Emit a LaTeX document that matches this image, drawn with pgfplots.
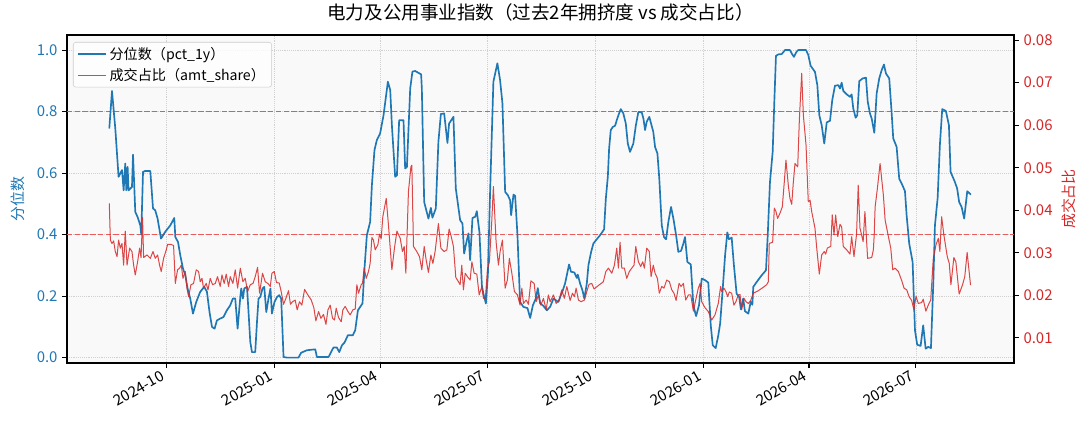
\documentclass[border=0pt]{standalone}
\usepackage{fontspec}
\setmainfont{Noto Sans CJK SC}
\usepackage{pgfplots}
\usepackage{pgfplotstable}
\pgfplotsset{compat=1.18}

\definecolor{tabblue}{HTML}{1F77B4}
\definecolor{tabred}{HTML}{D62728}
\definecolor{refgreen}{HTML}{3CB43C}
\definecolor{refred}{HTML}{EC5A5A}
\definecolor{facebg}{HTML}{F9F9F9}

% x = days since 2024-10-01, y = pct_1y
\pgfplotstableread{
d v
-48.5 0.745
-46.2 0.867
-43.4 0.745
-40.6 0.588
-37.7 0.610
-36.3 0.544
-34.9 0.631
-34.0 0.544
-32.9 0.620
-32.1 0.544
-29.2 0.555
-28.3 0.660
-26.4 0.474
-24.4 0.457
-22.1 0.430
-21.3 0.400
-19.8 0.604
-17.9 0.607
-13.6 0.607
-11.3 0.485
-9.4 0.479
-7.4 0.452
-4.5 0.387
-0.9 0.409
3.4 0.430
6.8 0.454
7.7 0.392
10.0 0.376
11.9 0.333
14.2 0.290
16.2 0.268
18.1 0.225
20.4 0.192
22.7 0.143
25.5 0.181
28.9 0.214
32.3 0.230
34.6 0.214
36.8 0.148
38.9 0.100
41.1 0.094
43.1 0.121
45.9 0.127
48.7 0.132
51.6 0.154
54.4 0.170
56.7 0.192
58.7 0.192
60.7 0.094
63.0 0.197
63.8 0.225
65.2 0.192
66.4 0.225
68.7 0.230
70.0 0.148
71.5 0.051
72.9 0.018
75.7 0.018
77.2 0.116
78.5 0.192
80.0 0.197
81.9 0.225
83.4 0.230
85.1 0.148
87.0 0.192
88.7 0.225
89.9 0.143
92.1 0.181
94.2 0.197
96.1 0.203
97.8 0.192
99.8 0.002
102.7 0.000
112.5 0.000
114.8 0.016
119.7 0.024
126.8 0.027
128.2 0.002
138.1 0.002
142.3 0.033
145.2 0.033
147.2 0.018
149.5 0.040
151.7 0.049
154.6 0.073
158.8 0.073
160.8 0.089
163.1 0.154
167.0 0.176
168.7 0.290
170.7 0.398
173.5 0.441
175.0 0.561
177.2 0.675
179.2 0.707
182.0 0.729
184.9 0.788
188.6 0.897
190.6 0.870
192.0 0.756
194.8 0.588
196.3 0.593
198.2 0.772
201.9 0.772
203.3 0.615
204.8 0.620
207.6 0.875
209.5 0.930
211.8 0.932
216.9 0.921
217.5 0.875
219.5 0.506
223.1 0.452
225.2 0.487
226.5 0.455
229.4 0.485
231.6 0.702
233.7 0.792
236.5 0.794
239.3 0.698
240.7 0.761
244.4 0.783
246.4 0.550
250.1 0.447
252.1 0.436
253.5 0.338
255.2 0.371
257.2 0.404
258.6 0.317
260.6 0.454
262.9 0.458
264.3 0.476
266.5 0.409
268.6 0.235
269.9 0.208
272.0 0.176
273.7 0.268
275.6 0.539
278.4 0.897
281.8 0.957
284.1 0.902
286.1 0.827
288.4 0.539
290.7 0.528
292.6 0.512
293.5 0.463
295.5 0.530
296.9 0.526
298.9 0.398
301.1 0.181
303.9 0.165
307.4 0.161
309.7 0.129
312.0 0.170
314.5 0.192
316.2 0.226
318.2 0.176
320.5 0.170
323.9 0.154
326.7 0.165
329.5 0.192
333.7 0.181
337.5 0.219
339.4 0.241
340.9 0.268
342.8 0.303
344.5 0.279
347.3 0.277
349.4 0.259
350.2 0.270
352.2 0.241
354.2 0.219
355.8 0.192
357.9 0.241
359.3 0.301
361.6 0.344
363.5 0.371
366.4 0.385
369.2 0.398
372.6 0.417
374.1 0.517
375.8 0.588
376.9 0.680
378.3 0.740
380.0 0.750
382.0 0.754
383.4 0.772
384.8 0.788
386.8 0.808
389.0 0.794
391.1 0.761
392.8 0.696
394.7 0.669
397.5 0.696
399.6 0.754
401.8 0.799
404.7 0.797
406.1 0.777
407.5 0.740
408.9 0.767
411.1 0.783
412.6 0.761
414.5 0.734
416.0 0.685
418.0 0.664
419.6 0.582
421.7 0.430
423.6 0.392
425.4 0.385
427.3 0.441
429.6 0.490
431.6 0.452
433.9 0.398
435.8 0.344
438.1 0.347
440.1 0.371
441.5 0.392
443.5 0.311
446.4 0.303
448.6 0.170
450.9 0.135
453.4 0.170
455.7 0.257
458.5 0.252
461.3 0.244
463.4 0.105
465.1 0.040
467.6 0.031
469.8 0.072
471.4 0.111
473.7 0.230
475.6 0.333
477.5 0.407
478.9 0.385
481.2 0.390
483.1 0.301
485.4 0.208
487.6 0.197
489.0 0.157
491.0 0.192
492.5 0.151
495.4 0.143
497.4 0.181
498.8 0.172
499.6 0.230
502.5 0.246
506.8 0.268
510.4 0.284
511.9 0.398
513.8 0.571
516.1 0.669
517.5 0.832
518.9 0.981
520.9 0.986
523.8 0.987
526.6 1.000
530.8 1.000
532.3 0.989
534.2 0.978
536.5 0.995
537.9 1.000
544.5 1.000
546.4 0.984
548.4 0.949
552.1 0.929
554.1 0.886
555.8 0.788
557.8 0.756
560.0 0.696
562.1 0.765
564.9 0.770
566.8 0.837
569.1 0.884
572.0 0.886
573.4 0.875
574.8 0.894
576.2 0.867
579.1 0.856
581.9 0.848
583.3 0.856
584.7 0.810
586.7 0.780
588.1 0.788
589.8 0.899
592.7 0.908
595.5 0.910
597.0 0.832
598.9 0.794
600.4 0.777
602.6 0.731
604.6 0.859
606.8 0.908
608.9 0.935
610.8 0.953
612.5 0.924
615.3 0.908
617.3 0.799
618.7 0.713
621.6 0.685
623.8 0.582
625.9 0.566
628.7 0.541
630.1 0.463
632.3 0.371
635.2 0.311
637.2 0.089
639.1 0.042
642.0 0.038
644.2 0.105
646.3 0.029
648.5 0.035
650.8 0.031
652.8 0.241
654.2 0.430
656.5 0.519
658.4 0.691
660.4 0.808
663.5 0.802
666.1 0.756
667.5 0.604
671.2 0.571
673.1 0.550
674.8 0.506
676.9 0.490
679.1 0.452
681.7 0.541
684.8 0.530
}\pctdata

% x = days since 2024-10-01, y = amt_share
\pgfplotstableread{
d v
-48.5 0.0416
-47.6 0.0330
-46.2 0.0322
-44.8 0.0328
-43.4 0.0303
-41.9 0.0291
-40.6 0.0330
-39.1 0.0311
-37.7 0.0322
-36.3 0.0271
-34.9 0.0351
-33.4 0.0271
-31.2 0.0311
-29.2 0.0303
-27.8 0.0271
-26.4 0.0248
-24.4 0.0279
-22.7 0.0311
-21.5 0.0289
-20.2 0.0383
-19.3 0.0289
-16.4 0.0295
-13.6 0.0287
-11.3 0.0303
-9.4 0.0287
-7.4 0.0295
-5.7 0.0271
-4.3 0.0256
-2.3 0.0287
0.0 0.0307
1.1 0.0320
4.0 0.0320
6.2 0.0317
7.7 0.0228
9.6 0.0260
11.3 0.0264
12.8 0.0271
14.2 0.0240
16.2 0.0256
17.6 0.0217
19.0 0.0197
21.0 0.0225
23.2 0.0228
25.5 0.0260
27.5 0.0256
28.9 0.0232
30.4 0.0240
31.7 0.0217
34.0 0.0228
35.5 0.0213
37.4 0.0240
39.4 0.0225
41.7 0.0228
43.6 0.0244
45.9 0.0221
47.4 0.0248
49.3 0.0228
51.0 0.0250
53.0 0.0221
54.4 0.0244
56.7 0.0228
58.7 0.0260
60.7 0.0217
63.0 0.0264
65.2 0.0232
67.2 0.0240
69.2 0.0209
71.5 0.0225
73.8 0.0228
75.7 0.0244
77.7 0.0266
79.4 0.0205
81.9 0.0252
84.2 0.0232
86.5 0.0228
88.5 0.0221
89.9 0.0252
91.9 0.0256
93.8 0.0230
96.1 0.0229
97.8 0.0209
99.8 0.0179
101.8 0.0193
104.0 0.0211
105.7 0.0179
107.4 0.0185
109.7 0.0189
111.4 0.0166
113.4 0.0185
115.4 0.0177
117.7 0.0214
120.5 0.0201
123.4 0.0189
125.6 0.0171
127.3 0.0140
129.6 0.0162
131.6 0.0146
133.8 0.0155
135.9 0.0132
137.6 0.0166
139.5 0.0177
141.5 0.0146
143.2 0.0142
144.6 0.0170
146.6 0.0148
148.9 0.0138
150.3 0.0166
152.3 0.0174
154.6 0.0162
156.5 0.0154
158.8 0.0166
160.8 0.0168
162.2 0.0225
163.6 0.0205
165.9 0.0225
167.0 0.0228
168.4 0.0264
170.2 0.0240
172.1 0.0256
173.5 0.0275
175.0 0.0336
176.3 0.0330
177.8 0.0307
180.1 0.0319
181.5 0.0344
182.9 0.0333
184.3 0.0385
187.2 0.0428
189.1 0.0365
192.0 0.0260
194.2 0.0311
196.3 0.0351
199.1 0.0334
201.0 0.0303
202.5 0.0315
203.9 0.0252
206.1 0.0444
208.2 0.0502
209.0 0.0506
210.4 0.0315
213.2 0.0303
215.5 0.0291
217.5 0.0260
219.5 0.0315
221.2 0.0283
223.1 0.0254
225.2 0.0295
226.9 0.0275
228.8 0.0303
231.6 0.0369
233.7 0.0311
236.5 0.0303
238.8 0.0307
240.7 0.0356
242.2 0.0342
244.4 0.0315
246.4 0.0242
248.7 0.0232
250.1 0.0225
251.5 0.0271
252.9 0.0213
254.4 0.0252
256.3 0.0244
258.6 0.0236
260.1 0.0279
262.0 0.0252
264.3 0.0250
266.3 0.0201
268.6 0.0221
269.9 0.0193
271.6 0.0193
273.3 0.0260
275.0 0.0279
277.0 0.0373
278.4 0.0456
280.7 0.0326
282.7 0.0271
284.1 0.0303
286.1 0.0330
288.4 0.0217
290.3 0.0236
292.0 0.0287
294.1 0.0252
296.3 0.0209
298.9 0.0201
301.1 0.0177
302.6 0.0217
304.0 0.0181
306.3 0.0189
308.2 0.0179
310.3 0.0234
313.1 0.0228
314.8 0.0185
316.7 0.0201
318.8 0.0177
321.0 0.0193
323.3 0.0166
325.2 0.0201
326.7 0.0185
329.5 0.0201
331.8 0.0181
334.3 0.0189
336.6 0.0213
338.8 0.0193
340.9 0.0221
343.7 0.0188
345.7 0.0205
347.4 0.0197
348.8 0.0217
350.8 0.0189
353.0 0.0185
355.9 0.0189
357.9 0.0209
359.8 0.0226
362.1 0.0228
364.1 0.0215
367.7 0.0223
372.0 0.0232
374.1 0.0256
376.3 0.0264
379.2 0.0252
381.4 0.0271
383.4 0.0311
384.8 0.0264
386.2 0.0325
387.7 0.0264
389.9 0.0264
391.9 0.0240
394.1 0.0256
396.2 0.0264
398.1 0.0271
399.6 0.0315
401.8 0.0279
403.8 0.0268
405.5 0.0279
406.9 0.0264
408.9 0.0311
411.1 0.0303
412.6 0.0244
414.5 0.0271
416.0 0.0252
418.0 0.0240
419.6 0.0205
421.7 0.0221
423.6 0.0217
425.9 0.0236
428.2 0.0232
430.2 0.0213
432.1 0.0205
433.9 0.0188
436.4 0.0228
438.1 0.0221
440.1 0.0228
442.1 0.0189
444.4 0.0201
446.4 0.0201
448.6 0.0163
450.9 0.0193
452.8 0.0217
454.3 0.0228
455.7 0.0185
458.5 0.0171
461.3 0.0162
464.2 0.0142
467.0 0.0154
469.8 0.0181
471.8 0.0221
472.7 0.0209
474.6 0.0217
476.3 0.0209
477.8 0.0197
479.2 0.0208
481.2 0.0205
483.1 0.0177
484.8 0.0185
486.8 0.0201
488.3 0.0202
489.7 0.0166
491.7 0.0193
493.4 0.0185
495.4 0.0181
497.4 0.0188
499.6 0.0205
503.9 0.0211
508.1 0.0219
511.0 0.0225
512.4 0.0232
513.2 0.0322
516.1 0.0325
517.5 0.0405
518.9 0.0397
520.3 0.0381
522.3 0.0393
524.3 0.0408
526.0 0.0467
527.4 0.0518
529.4 0.0459
530.8 0.0428
532.3 0.0414
533.6 0.0463
535.1 0.0510
537.4 0.0502
538.8 0.0612
540.8 0.0722
542.2 0.0624
544.5 0.0553
546.4 0.0420
547.9 0.0424
549.3 0.0397
552.1 0.0358
553.6 0.0311
555.8 0.0250
557.8 0.0295
560.0 0.0303
561.2 0.0297
562.6 0.0311
565.5 0.0315
566.8 0.0389
568.3 0.0342
569.7 0.0389
571.5 0.0338
573.4 0.0367
574.8 0.0361
576.2 0.0315
579.1 0.0307
581.9 0.0297
583.3 0.0338
585.3 0.0291
587.5 0.0344
588.9 0.0459
590.4 0.0358
591.8 0.0342
593.1 0.0326
594.6 0.0397
596.9 0.0287
600.4 0.0289
601.8 0.0307
602.5 0.0342
603.3 0.0408
605.2 0.0451
607.5 0.0510
610.3 0.0436
611.8 0.0377
614.6 0.0338
616.6 0.0311
618.3 0.0260
620.2 0.0264
623.1 0.0256
626.0 0.0234
627.9 0.0217
630.2 0.0213
632.2 0.0197
634.4 0.0188
636.3 0.0166
638.1 0.0198
640.0 0.0181
642.9 0.0183
644.2 0.0191
646.5 0.0163
648.5 0.0177
650.6 0.0189
652.8 0.0287
655.1 0.0319
657.1 0.0334
658.4 0.0303
659.9 0.0385
661.8 0.0342
664.7 0.0291
666.4 0.0275
667.8 0.0225
670.3 0.0289
672.0 0.0279
674.8 0.0203
677.7 0.0225
679.6 0.0244
681.6 0.0301
684.5 0.0224
}\sharedata

\begin{document}
\begin{tikzpicture}
\pgfplotsset{
  set layers,
  every tick label/.append style={font=\fontsize{11.2pt}{13pt}\selectfont},
  /pgf/number format/assume math mode=true,
}

\begin{axis}[
  name=main,
  scale only axis,
  width=710.25pt, height=246pt,
  xmin=-84.5, xmax=721.5,
  ymin=-0.0175, ymax=1.049,
  axis background/.style={fill=facebg},
  axis line style={line width=0.8pt},
  tick align=outside,
  major tick length=3.6pt,
  every tick/.style={black, line width=0.8pt},
  xtick pos=bottom, ytick pos=left,
  xtick={0,92,182,273,365,457,547,638},
  xticklabels={2024-10,2025-01,2025-04,2025-07,2025-10,2026-01,2026-04,2026-07},
  xticklabel style={xshift=-4pt, yshift=1.5pt, rotate=30, anchor=north east, inner sep=2pt},
  ytick={0,0.2,0.4,0.6,0.8,1.0},
  yticklabel style={color=tabblue, /pgf/number format/.cd, fixed, fixed zerofill, precision=1},
  scaled y ticks=false,
  grid=major,
  major grid style={densely dotted, black!18, line width=0.6pt},
  ylabel={分位数},
  ylabel style={color=tabblue, font=\fontsize{11.2pt}{13pt}\selectfont,
    at={(axis description cs:-0.0517,0.5)}, anchor=center},
  title={电力及公用事业指数（过去2年拥挤度 vs 成交占比）},
  title style={font=\fontsize{13.9pt}{16pt}\selectfont,
    at={(axis description cs:0.5,1)}, anchor=south, yshift=0.5pt},
]
\coordinate (bl) at (rel axis cs:0,0);
\coordinate (tr) at (rel axis cs:1,1);
% reference lines: 0.8 (crowded) and 0.4
\addplot[draw=refgreen, line width=0.85pt, dash pattern=on 4pt off 1.8pt]
  coordinates {(-84.5,0.8) (721.5,0.8)};
\addplot[draw=refred, line width=0.85pt, dash pattern=on 4pt off 1.8pt]
  coordinates {(-84.5,0.4) (721.5,0.4)};
\addplot[tabblue, line width=1.25pt, line join=round] table[x=d, y=v] {\pctdata};
\end{axis}

\begin{axis}[
  at={(main.south west)}, anchor=south west,
  scale only axis,
  width=710.25pt, height=246pt,
  xmin=-84.5, xmax=721.5,
  ymin=0.0041, ymax=0.0812,
  axis x line=none,
  axis y line*=right,
  axis line style={line width=0.8pt},
  tick align=outside,
  major tick length=3.6pt,
  every tick/.style={black, line width=0.8pt},
  ytick={0.01,0.02,0.03,0.04,0.05,0.06,0.07,0.08},
  yticklabel style={color=tabred, /pgf/number format/.cd, fixed, fixed zerofill, precision=2},
  scaled y ticks=false,
  ylabel={成交占比},
  ylabel style={color=tabred, font=\fontsize{11.2pt}{13pt}\selectfont,
    at={(axis description cs:1.0581,0.5)}, anchor=center},
  legend style={at={(axis description cs:0.0063,0.9787)}, anchor=north west,
    draw=black!20, fill=white, fill opacity=0.8, text opacity=1,
    rounded corners=2pt, font=\fontsize{10.6pt}{12.5pt}\selectfont,
    inner xsep=3pt, inner ysep=1.5pt, row sep=1.5pt},
  legend cell align=left,
  legend image code/.code={\draw[#1] (0pt,0pt) -- (21pt,0pt);},
]
\addlegendimage{tabblue, line width=1.25pt}
\addlegendentry{分位数（pct\_1y）}
\addplot[tabred, opacity=0.85, line width=0.75pt, line join=round] table[x=d, y=v] {\sharedata};
\addlegendentry{成交占比（amt\_share）}
\end{axis}

\pgfresetboundingbox
\path[use as bounding box] ([xshift=-50.25pt,yshift=-49.5pt]bl) rectangle ([xshift=56.25pt,yshift=26.25pt]tr);
\end{tikzpicture}
\end{document}
